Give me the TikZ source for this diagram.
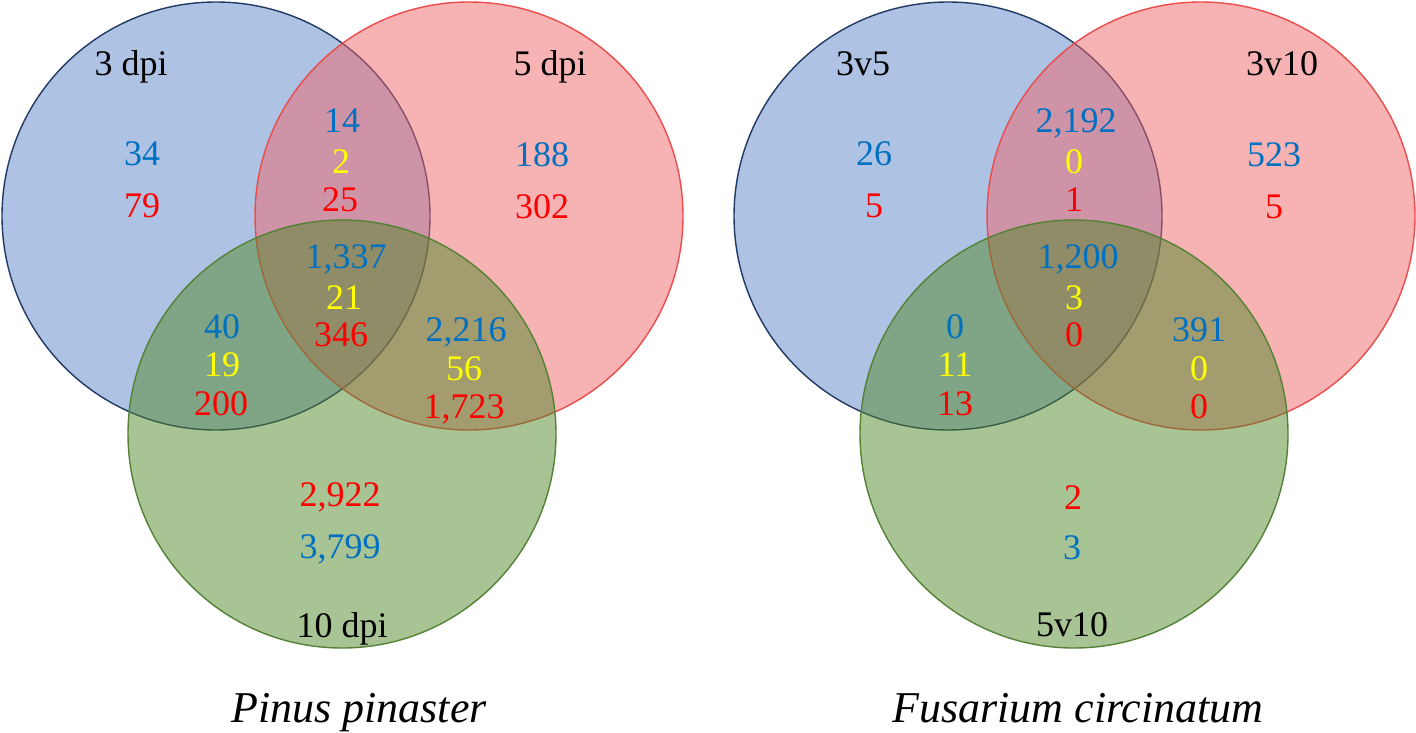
\documentclass[tikz,border=0pt]{standalone}
\usepackage{fontspec}
\setmainfont{Liberation Serif}
\usepackage{xcolor}
\usepackage{tikz}
\definecolor{setblue}{RGB}{93, 133, 201}
\definecolor{setred}{RGB}{239, 101, 105}
\definecolor{setgreen}{RGB}{81, 135, 41}
\definecolor{rimblue}{RGB}{32, 56, 100}
\definecolor{rimred}{RGB}{235, 75, 75}
\definecolor{rimgreen}{RGB}{84, 130, 53}
\definecolor{numblue}{RGB}{0, 112, 192}
\definecolor{numred}{RGB}{255, 0, 0}
\definecolor{numyellow}{RGB}{255, 255, 0}

\begin{document}
\begin{tikzpicture}[x=1pt, y=-1pt,
    disc/.style={fill opacity=0.5, line width=1.4pt},
    num/.style={anchor=base, inner sep=0pt, font=\fontsize{36}{40}\selectfont},
    setlabel/.style={num, text=black},
    species/.style={anchor=base, inner sep=0pt, font=\fontsize{44}{48}\selectfont\itshape}]
    \useasboundingbox (0,0) rectangle (1416,733);
    % LEFT VENN (Pinus pinaster)
    \coordinate (pp-3) at (216,216);
    \coordinate (pp-5) at (469,216);
    \coordinate (pp-10) at (342,434);
    \filldraw[disc, fill=setblue, draw=rimblue] (pp-3) circle (214pt);
    \filldraw[disc, fill=setred, draw=rimred] (pp-5) circle (214pt);
    \filldraw[disc, fill=setgreen, draw=rimgreen] (pp-10) circle (214pt);
    \node[setlabel] (pp-lab3) at (131,76) {3 dpi};
    \node[setlabel] (pp-lab5) at (550,76) {5 dpi};
    \node[setlabel] (pp-lab10) at (342,637) {10 dpi};
    % only 3 dpi
    \node[num, numblue] (pp-a1) at (142,165) {34};
    \node[num, numred] (pp-a2) at (142,217) {79};
    % 3 and 5 dpi
    \node[num, numblue] (pp-ab1) at (342,132) {14};
    \node[num, numyellow] (pp-ab2) at (341,173) {2};
    \node[num, numred] (pp-ab3) at (340,211) {25};
    % only 5 dpi
    \node[num, numblue] (pp-b1) at (542,166) {188};
    \node[num, numred] (pp-b2) at (542,218) {302};
    % all three
    \node[num, numblue] (pp-abc1) at (346,268) {1,337};
    \node[num, numyellow] (pp-abc2) at (344,309) {21};
    \node[num, numred] (pp-abc3) at (341,346) {346};
    % 3 and 10 dpi
    \node[num, numblue] (pp-ac1) at (222,338) {40};
    \node[num, numyellow] (pp-ac2) at (222,376) {19};
    \node[num, numred] (pp-ac3) at (221,415) {200};
    % 5 and 10 dpi
    \node[num, numblue] (pp-bc1) at (466,341) {2,216};
    \node[num, numyellow] (pp-bc2) at (464,380) {56};
    \node[num, numred] (pp-bc3) at (464,418) {1,723};
    % only 10 dpi
    \node[num, numred] (pp-c1) at (340,506) {2,922};
    \node[num, numblue] (pp-c2) at (340,558) {3,799};
    \node[species] (pp-title) at (359,722) {Pinus pinaster};
    % RIGHT VENN (Fusarium circinatum)
    \coordinate (fc-35) at (948,216);
    \coordinate (fc-310) at (1201,216);
    \coordinate (fc-510) at (1074,434);
    \filldraw[disc, fill=setblue, draw=rimblue] (fc-35) circle (214pt);
    \filldraw[disc, fill=setred, draw=rimred] (fc-310) circle (214pt);
    \filldraw[disc, fill=setgreen, draw=rimgreen] (fc-510) circle (214pt);
    \node[setlabel] (fc-lab35) at (863,76) {3v5};
    \node[setlabel] (fc-lab310) at (1282,76) {3v10};
    \node[setlabel] (fc-lab510) at (1072,636) {5v10};
    % only 3v5
    \node[num, numblue] (fc-a1) at (874,165) {26};
    \node[num, numred] (fc-a2) at (874,217) {5};
    % 3v5 and 3v10
    \node[num, numblue] (fc-ab1) at (1076,132) {2,192};
    \node[num, numyellow] (fc-ab2) at (1074,173) {0};
    \node[num, numred] (fc-ab3) at (1074,211) {1};
    % only 3v10
    \node[num, numblue] (fc-b1) at (1274,166) {523};
    \node[num, numred] (fc-b2) at (1274,218) {5};
    % all three
    \node[num, numblue] (fc-abc1) at (1078,268) {1,200};
    \node[num, numyellow] (fc-abc2) at (1074,309) {3};
    \node[num, numred] (fc-abc3) at (1074,346) {0};
    % 3v5 and 5v10
    \node[num, numblue] (fc-ac1) at (955,338) {0};
    \node[num, numyellow] (fc-ac2) at (955,376) {11};
    \node[num, numred] (fc-ac3) at (955,415) {13};
    % 3v10 and 5v10
    \node[num, numblue] (fc-bc1) at (1199,341) {391};
    \node[num, numyellow] (fc-bc2) at (1199,380) {0};
    \node[num, numred] (fc-bc3) at (1199,418) {0};
    % only 5v10
    \node[num, numred] (fc-c1) at (1073,509) {2};
    \node[num, numblue] (fc-c2) at (1072,559) {3};
    \node[species] (fc-title) at (1078,722) {Fusarium circinatum};
\end{tikzpicture}
\end{document}
